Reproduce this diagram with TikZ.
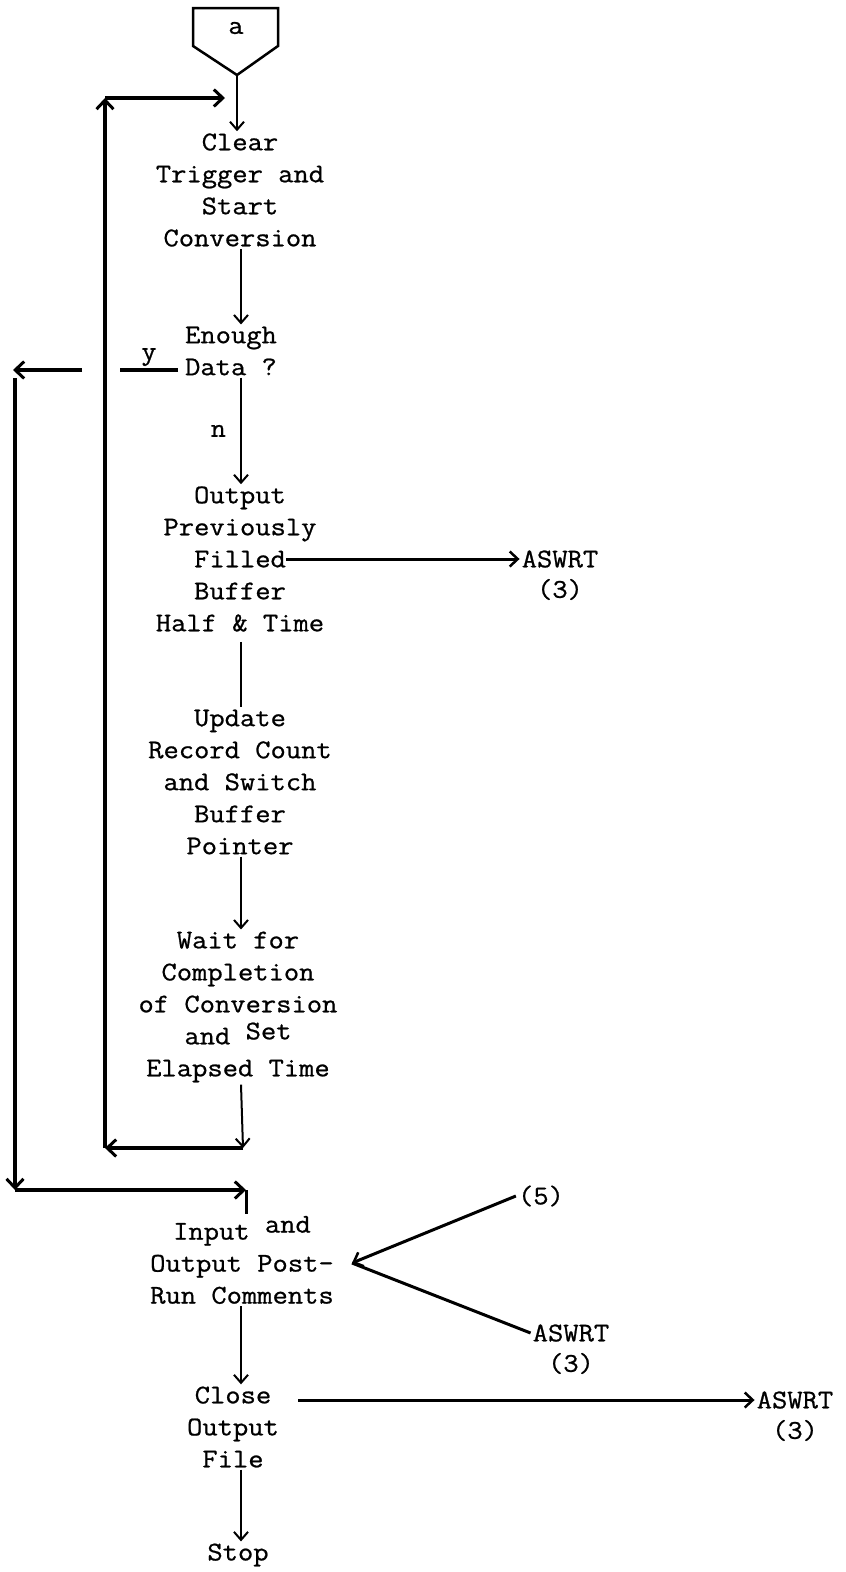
\documentclass[tikz,border=0pt]{standalone}
\usepackage{fontspec}
\setmonofont{Latin Modern Mono}[FakeStretch=1.1, FakeBold=0.8]
\usetikzlibrary{arrows.meta, positioning}

\begin{document}
\begin{tikzpicture}[
      x=1pt, y=-1pt,
      node distance=7pt,
      txt/.style={font=\ttfamily\fontsize{27}{32}\selectfont, align=center, inner sep=2pt},
      flow/.style={line width=2pt, -{Straight Barb[length=8pt, width=14pt, line width=2pt]}},
      side/.style={line width=3pt, -{Straight Barb[length=8pt, width=15pt, line width=2.5pt]}},
      heavy/.style={line width=4pt, -{Straight Barb[length=9pt, width=17pt, line width=3pt]}}
    ]
    \useasboundingbox (0,0) rectangle (846,1572);
    % connector at the top
    \draw[line width=2.5pt] (193,8) -- (278,8) -- (278,46) -- (237,75) -- (193,46) -- cycle;
    \node[txt] (conn) at (236,28) {a};
    \coordinate (connTip) at (237,75);
    \coordinate (spine) at (241,0);

    \node[txt] (clear) at (240,190) {Clear\\Trigger and\\Start\\Conversion};
    \node[txt] (enough) at (231,351) {Enough\\Data ?};
    \node[txt] (output) at (240,559) {Output\\Previously\\Filled\\Buffer\\Half \& Time};
    \node[txt] (update) at (240,782) {Update\\Record Count\\and Switch\\Buffer\\Pointer};
    \node[txt] (wait) at (238,1007) {Wait for\\Completion\\of Conversion\\and \raisebox{5pt}{Set}\\Elapsed Time};
    \node[txt] (input) at (242,1260) {Input \raisebox{7pt}{and}\\Output Post-\\Run Comments};
    \node[txt] (close) at (233,1427) {Close\\Output\\File};
    \node[txt] (stop) at (238,1555) {Stop};

    % outside routines
    \node[txt] (aswrtA) at (560,559) {ASWRT};
    \node[txt, below=of aswrtA] (threeA) {(3)};
    \node[txt] (five) at (541,1196) {(5)};
    \node[txt] (aswrtB) at (571,1333) {ASWRT};
    \node[txt, below=of aswrtB] (threeB) {(3)};
    \node[txt] (aswrtC) at (795,1400) {ASWRT};
    \node[txt, below=of aswrtC] (threeC) {(3)};

    % main line
    \draw[flow] (connTip) -- (connTip |- clear.north);
    \draw[flow] (spine |- clear.south) -- (spine |- enough.north);
    \draw[flow] (spine |- enough.south) -- node[txt, left=12pt] (nlab) {n} (spine |- output.north);
    \draw[line width=2pt] (spine |- output.south) ++(0,8) -- (spine |- update.north);
    \draw[flow] (spine |- update.south) -- (spine |- wait.north);
    \draw[flow] (spine |- input.south) -- (spine |- close.north);
    \draw[flow] (spine |- close.south) -- (spine |- stop.north);

    % loop back to the start
    \coordinate (loopSE) at (243,1148);
    \coordinate (loopSW) at (105,1148);
    \coordinate (loopNW) at (105,98);
    \coordinate (loopNE) at (225,98);
    \draw[flow] (spine |- wait.south) -- (loopSE);
    \draw[heavy] (loopSE) -- (loopSW);
    \draw[heavy] (loopSW) -- (loopNW);
    \draw[heavy] (loopNW) -- (loopNE);

    % yes branch
    \coordinate (dataL) at (178,370);
    \coordinate (yA) at (120,370);
    \coordinate (yB) at (82,370);
    \coordinate (yNW) at (13,370);
    \coordinate (yTop) at (15,378);
    \coordinate (ySW) at (15,1190);
    \coordinate (inTop) at (246,1190);
    \draw[line width=4pt] (dataL) -- node[txt, above=0pt] (ylab) {y} (yA);
    \draw[heavy] (yB) -- (yNW);
    \draw[heavy] (yTop) -- (ySW);
    \draw[heavy] (ySW) -- (inTop);
    \draw[line width=3pt] (inTop) -- (inTop |- input.north);

    % calls
    \coordinate (filledR) at (286,559);
    \coordinate (inR) at (352,1263);
    \coordinate (closeR) at (298,1400);
    \draw[side] (filledR) -- (aswrtA.west);
    \draw[side] (five.west) -- (inR);
    \draw[line width=3pt] (aswrtB.west) -- (inR);
    \draw[side] (closeR) -- (aswrtC.west);
\end{tikzpicture}
\end{document}
